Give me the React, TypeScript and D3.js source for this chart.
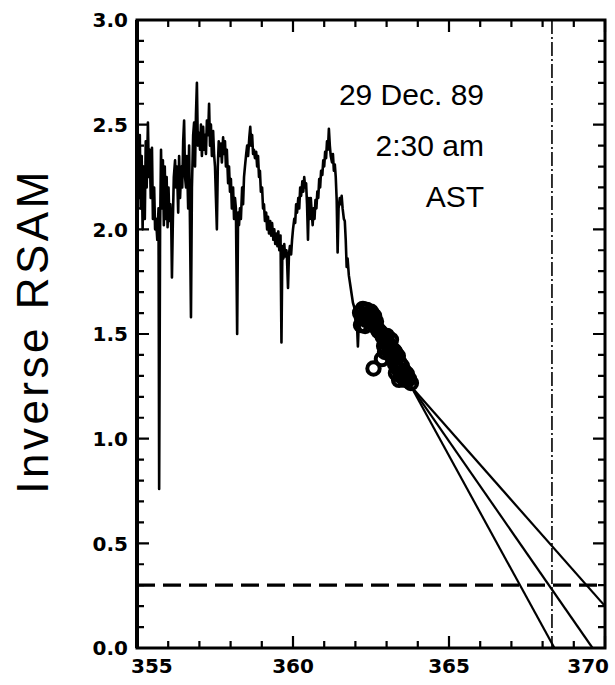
import React from "react";
import * as d3 from "d3";

// ---- data ----
const seriesT: number[] = [
  355.00, 355.03, 355.06, 355.09, 355.12, 355.15, 355.18, 355.21, 355.25, 355.28,
  355.31, 355.35, 355.38, 355.41, 355.44, 355.48, 355.51, 355.55, 355.58, 355.61,
  355.65, 355.69, 355.71, 355.74, 355.77, 355.80, 355.83, 355.86, 355.89, 355.92,
  355.95, 355.98, 356.01, 356.04, 356.07, 356.10, 356.12, 356.15, 356.18, 356.22,
  356.25, 356.28, 356.32, 356.35, 356.38, 356.42, 356.45, 356.48, 356.51, 356.54,
  356.57, 356.60, 356.64, 356.67, 356.70, 356.73, 356.76, 356.80, 356.83, 356.86,
  356.89, 356.92, 356.95, 356.99, 357.02, 357.05, 357.08, 357.12, 357.15, 357.18,
  357.21, 357.24, 357.28, 357.31, 357.34, 357.37, 357.40, 357.44, 357.47, 357.50,
  357.53, 357.56, 357.59, 357.62, 357.66, 357.69, 357.72, 357.76, 357.79, 357.82,
  357.85, 357.88, 357.92, 357.95, 357.98, 358.01, 358.04, 358.08, 358.11, 358.14,
  358.17, 358.21, 358.24, 358.27, 358.30, 358.33, 358.37, 358.40, 358.43, 358.46,
  358.50, 358.53, 358.56, 358.60, 358.63, 358.66, 358.69, 358.72, 358.75, 358.78,
  358.82, 358.85, 358.88, 358.91, 358.94, 358.97, 359.01, 359.04, 359.07, 359.10,
  359.14, 359.17, 359.20, 359.23, 359.27, 359.30, 359.33, 359.37, 359.40, 359.43,
  359.47, 359.50, 359.53, 359.56, 359.60, 359.63, 359.66, 359.69, 359.72, 359.75,
  359.79, 359.81, 359.84, 359.87, 359.90, 359.94, 359.97, 360.00, 360.04, 360.07,
  360.10, 360.13, 360.17, 360.20, 360.23, 360.26, 360.30, 360.33, 360.36, 360.39,
  360.42, 360.45, 360.48, 360.51, 360.54, 360.57, 360.60, 360.63, 360.66, 360.69,
  360.72, 360.75, 360.78, 360.81, 360.84, 360.87, 360.90, 360.94, 360.97, 361.00,
  361.03, 361.06, 361.09, 361.12, 361.15, 361.18, 361.21, 361.25, 361.28, 361.31,
  361.34, 361.37, 361.40, 361.43, 361.46, 361.50, 361.53, 361.56, 361.59, 361.63,
  361.66, 361.69, 361.72, 361.75, 361.79, 361.82, 361.85, 361.89, 361.92, 361.96,
  361.99, 362.02, 362.05, 362.08, 362.12, 362.20, 362.30, 362.40, 362.50, 362.60,
  362.70, 362.80, 362.90, 363.00, 363.10, 363.20, 363.30, 363.40, 363.50, 363.60,
  363.70,
];
const seriesV: number[] = [
  2.05, 2.40, 2.15, 2.45, 2.10, 2.35, 2.00, 2.30, 2.05, 2.42,
  2.20, 2.51, 2.25, 2.38, 2.15, 2.39, 2.05, 2.20, 2.00, 2.05,
  1.95, 2.10, 0.76, 2.00, 2.38, 2.10, 2.33, 2.02, 2.30, 2.05,
  2.25, 2.01, 2.20, 2.04, 2.12, 2.00, 1.77, 2.05, 2.25, 2.33,
  2.20, 2.30, 2.08, 2.35, 2.15, 2.30, 2.20, 2.42, 2.52, 2.25,
  2.20, 2.35, 2.10, 2.40, 2.00, 1.58, 2.20, 2.45, 2.51, 2.30,
  2.55, 2.70, 2.40, 2.46, 2.38, 2.50, 2.35, 2.49, 2.38, 2.45,
  2.36, 2.52, 2.45, 2.60, 2.40, 2.50, 2.35, 2.47, 2.36, 2.30,
  2.15, 2.00, 2.30, 2.42, 2.35, 2.41, 2.32, 2.44, 2.36, 2.42,
  2.30, 2.38, 2.22, 2.30, 2.18, 2.24, 2.10, 2.20, 2.05, 2.15,
  2.10, 1.50, 2.08, 2.02, 2.10, 2.05, 2.20, 2.12, 2.25, 2.30,
  2.36, 2.40, 2.35, 2.44, 2.49, 2.40, 2.45, 2.36, 2.38, 2.34,
  2.37, 2.30, 2.35, 2.25, 2.28, 2.18, 2.20, 2.10, 2.12, 2.04,
  2.08, 2.00, 2.06, 1.98, 2.04, 1.97, 2.03, 1.95, 2.00, 1.93,
  1.98, 1.92, 1.99, 1.90, 1.97, 1.46, 1.92, 1.86, 1.93, 1.87,
  1.90, 1.85, 1.72, 1.88, 1.92, 1.88, 1.95, 2.00, 2.05, 2.03,
  2.12, 2.08, 2.15, 2.10, 2.20, 2.16, 2.23, 2.18, 2.25, 2.20,
  2.22, 2.12, 1.95, 2.15, 2.05, 2.15, 2.08, 2.02, 2.10, 2.05,
  2.14, 2.10, 2.18, 2.15, 2.24, 2.20, 2.28, 2.26, 2.33, 2.30,
  2.37, 2.34, 2.42, 2.38, 2.48, 2.40, 2.35, 2.32, 2.36, 2.28,
  2.31, 2.25, 2.14, 1.89, 2.10, 2.15, 2.12, 2.16, 2.10, 2.05,
  2.04, 1.95, 1.82, 1.86, 1.78, 1.75, 1.72, 1.68, 1.65, 1.63,
  1.60, 1.58, 1.55, 1.44, 1.60, 1.58, 1.60, 1.55, 1.57, 1.52,
  1.50, 1.47, 1.45, 1.42, 1.40, 1.38, 1.34, 1.32, 1.30, 1.28,
  1.27,
];

// fitted points (circles)
const pointT: number[] = [
  362.15, 362.24, 362.37, 362.50, 362.60, 362.21, 362.34, 362.47, 362.18, 362.31, 362.60, 362.69,
  362.79, 362.88, 362.98, 362.92, 363.08, 363.17, 363.11, 363.27, 363.33, 363.21, 363.01, 363.14,
  363.27, 363.40, 363.49, 363.37, 363.56, 363.65, 363.46, 363.30, 363.72, 363.59, 363.78, 363.40,
  362.58, 362.28, 362.42, 362.55, 362.74, 362.84, 362.95, 363.04, 363.24, 363.36, 363.52, 363.62,
  362.66, 363.10, 362.85, 362.95,
];
const pointV: number[] = [
  1.601, 1.620, 1.615, 1.606, 1.586, 1.577, 1.567, 1.558, 1.543, 1.538, 1.543, 1.529,
  1.510, 1.486, 1.467, 1.443, 1.448, 1.429, 1.405, 1.414, 1.390, 1.381, 1.491, 1.472,
  1.357, 1.366, 1.347, 1.333, 1.323, 1.309, 1.300, 1.314, 1.285, 1.281, 1.266, 1.281,
  1.335, 1.590, 1.585, 1.570, 1.515, 1.500, 1.475, 1.455, 1.420, 1.395, 1.310, 1.295,
  1.560, 1.430, 1.380, 1.414,
];

// forecast lines: common start, three end points
const fitStart: [number, number] = [363.78, 1.25];
const fitEndT: number[] = [370.0, 369.6, 368.38];
const fitEndV: number[] = [0.2, 0.0, 0.0];

const eruptionDay = 368.3;
const thresholdLevel = 0.3;

const xTicks: number[] = d3.range(355, 371, 1);
const yTicks: number[] = d3.range(0, 31, 1).map((d) => d / 10);
const xTickLabels: number[] = [355, 360, 365, 370];
const yTickLabels: string[] = ["0.0", "0.5", "1.0", "1.5", "2.0", "2.5", "3.0"];

const annotationLines: string[] = ["29 Dec. 89", "2:30 am", "AST"];
const yAxisTitle = "Inverse RSAM";

export default function App() {
  const W = 615;
  const H = 685;
  const L = 137;
  const R = 605;
  const T = 20;
  const B = 648;

  const x = d3.scaleLinear().domain([355, 370]).range([L, R]);
  const y = d3.scaleLinear().domain([0, 3]).range([B, T]);

  const series = seriesT.map((t, i) => [t, seriesV[i]] as [number, number]);
  const line = d3
    .line<[number, number]>()
    .x((d) => x(d[0]))
    .y((d) => y(d[1]));

  const isMajorX = (t: number) => Math.round(t) % 5 === 0;
  const isMajorY = (v: number) => Math.round(v * 10) % 5 === 0;

  // tick marks as one path
  let tickPath = "";
  xTicks.forEach((t) => {
    const len = isMajorX(t) ? 12 : 7;
    const px = x(t);
    tickPath += `M${px},${B}V${B - len}M${px},${T}V${T + len}`;
  });
  yTicks.forEach((v) => {
    const len = isMajorY(v) ? 12 : 7;
    const py = y(v);
    tickPath += `M${L},${py}H${L + len}M${R},${py}H${R - len}`;
  });

  const tickFont = "'DejaVu Sans', sans-serif";
  const textFont = "'Liberation Sans', Arial, sans-serif";

  return (
    <svg
      width={W}
      height={H}
      style={{ position: "absolute", left: 0, top: 0, background: "#fff" }}
    >
      <rect x={0} y={0} width={W} height={H} fill="#fff" />
      <defs>
        <clipPath id="plot">
          <rect x={L} y={T} width={R - L} height={B - T} />
        </clipPath>
      </defs>

      {/* reference lines */}
      <line
        x1={x(eruptionDay)}
        x2={x(eruptionDay)}
        y1={T}
        y2={B}
        stroke="#000"
        strokeWidth={1.6}
        strokeDasharray="14,3,2,3"
      />
      <line
        x1={L}
        x2={R}
        y1={y(thresholdLevel)}
        y2={y(thresholdLevel)}
        stroke="#000"
        strokeWidth={3.2}
        strokeDasharray="18,8"
      />

      <g clipPath="url(#plot)">
        {/* forecast lines */}
        {fitEndT.map((t, i) => (
          <line
            key={"fit" + i}
            x1={x(fitStart[0])}
            y1={y(fitStart[1])}
            x2={x(t)}
            y2={y(fitEndV[i])}
            stroke="#000"
            strokeWidth={2.2}
          />
        ))}
        {/* RSAM series */}
        <path d={line(series) || ""} fill="none" stroke="#000" strokeWidth={2.6} strokeLinejoin="round" />
        {/* data points */}
        {pointT.map((t, i) => (
          <circle
            key={"p" + i}
            cx={x(t)}
            cy={y(pointV[i])}
            r={6.2}
            fill="none"
            stroke="#000"
            strokeWidth={4}
          />
        ))}
      </g>

      {/* frame */}
      <rect x={L} y={T} width={R - L} height={B - T} fill="none" stroke="#000" strokeWidth={3} />
      <line x1={L} x2={L} y1={T} y2={B} stroke="#000" strokeWidth={4} />

      {/* ticks */}
      <path d={tickPath} fill="none" stroke="#000" strokeWidth={2.2} />

      {/* tick labels */}
      {xTickLabels.map((t, i) => {
        const first = i === 0;
        const last = i === xTickLabels.length - 1;
        return (
          <text
            key={"xl" + t}
            x={first ? x(t) - 6 : last ? x(t) + 4 : x(t)}
            y={673}
            textAnchor={first ? "start" : last ? "end" : "middle"}
            fontFamily={tickFont}
            fontWeight="bold"
            fontSize={20}
            fill="#000"
          >
            {t}
          </text>
        );
      })}
      {yTickLabels.map((s) => (
        <text
          key={"yl" + s}
          x={L - 9}
          y={y(+s)}
          dy="0.36em"
          textAnchor="end"
          fontFamily={tickFont}
          fontWeight="bold"
          fontSize={20}
          fill="#000"
        >
          {s}
        </text>
      ))}

      {/* axis title */}
      <text
        transform={`translate(48, 331) rotate(-90)`}
        textAnchor="middle"
        fontFamily={textFont}
        fontSize={44}
        letterSpacing={3.5}
        fill="#000"
      >
        {yAxisTitle}
      </text>

      {/* annotation */}
      {annotationLines.map((s, i) => (
        <text
          key={"an" + i}
          x={484}
          y={105 + i * 51}
          textAnchor="end"
          fontFamily={textFont}
          fontSize={30}
          fill="#000"
        >
          {s}
        </text>
      ))}
    </svg>
  );
}
